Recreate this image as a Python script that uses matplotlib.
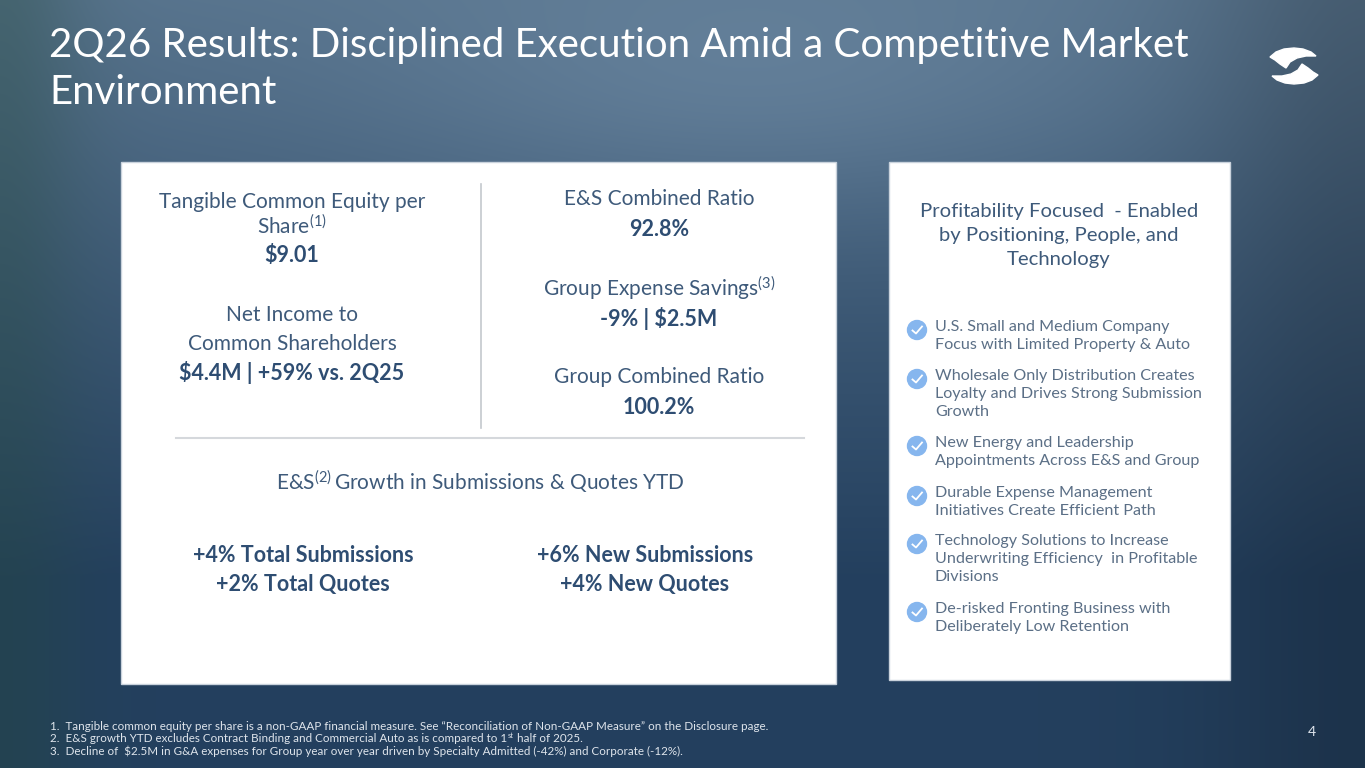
import numpy as np
import matplotlib.pyplot as plt
from matplotlib.patches import Rectangle, Circle, Polygon

plt.rcParams['font.family'] = ['Lato', 'DejaVu Sans']
plt.rcParams['mathtext.fontset'] = 'custom'
plt.rcParams['mathtext.rm'] = 'Lato'
plt.rcParams['mathtext.bf'] = 'Lato:bold'
plt.rcParams['mathtext.it'] = 'Lato:italic'

# slide content
title_lines = ['2Q26 Results: Disciplined Execution Amid a Competitive Market', 'Environment']

left_labels = [['Tangible Common Equity per', r'Share$^{(1)}$'],
               ['Net Income to', 'Common Shareholders']]
left_values = ['$9.01', '$4.4M | +59% vs. 2Q25']

right_labels = ['E&S Combined Ratio', r'Group Expense Savings$^{(3)}$', 'Group Combined Ratio']
right_values = ['92.8%', '-9% | $2.5M', '100.2%']

growth_title = r'E&S$^{(2)}\,$Growth in Submissions & Quotes YTD'
growth_left = ['+4% Total Submissions', '+2% Total Quotes']
growth_right = ['+6% New Submissions', '+4% New Quotes']

side_title = ['Profitability Focused  - Enabled', 'by Positioning, People, and', 'Technology']
bullets = [['U.S. Small and Medium Company', 'Focus with Limited Property & Auto'],
           ['Wholesale Only Distribution Creates', 'Loyalty and Drives Strong Submission', 'Growth'],
           ['New Energy and Leadership', 'Appointments Across E&S and Group'],
           ['Durable Expense Management', 'Initiatives Create Efficient Path'],
           ['Technology Solutions to Increase', 'Underwriting Efficiency  in Profitable', 'Divisions'],
           ['De-risked Fronting Business with', 'Deliberately Low Retention']]
bullet_y = [327, 376, 443, 493, 541, 609]

footnotes = ['1.  Tangible common equity per share is a non-GAAP financial measure. See \u201cReconciliation of Non-GAAP Measure\u201d on the Disclosure page.',
             '2.  E&S growth YTD excludes Contract Binding and Commercial Auto as is compared to 1',
             '3.  Decline of  \\$2.5M in G&A expenses for Group year over year driven by Specialty Admitted (-42%) and Corporate (-12%).']
footnote2_tail = ['st', ' half of 2025.']

W, H = 1365, 768
txt = '#3e5a7a'
bold = '#2e4d72'
soft = '#5b6f86'
note = '#dfe5ec'

fig = plt.figure(figsize=(13.65, 7.68), dpi=100)
ax = fig.add_axes([0, 0, 1, 1])

# blurred blue photo-like background
yy, xx = np.mgrid[0:H, 0:W] / np.array([H, W])[:, None, None]
top = np.array([0.34, 0.45, 0.55])
bot = np.array([0.14, 0.25, 0.37])
t = np.clip(yy / 0.75, 0, 1)[..., None]
bg = top * (1 - t) + bot * t
glow = np.exp(-((xx - 0.55) ** 2 / 0.08 + (yy - 0.12) ** 2 / 0.03))[..., None]
bg = bg + glow * np.array([0.07, 0.07, 0.07])
edge = np.exp(-(xx / 0.06) ** 2)[..., None]
bg = bg * (1 - 0.35 * edge) + edge * np.array([0.05, 0.1, 0.08])
rdark = np.exp(-((1 - xx) / 0.12) ** 2)[..., None]
bg = bg * (1 - 0.2 * rdark)
ax.imshow(np.clip(bg, 0, 1), extent=(0, W, H, 0), aspect='auto', zorder=0)
ax.set_xlim(0, W)
ax.set_ylim(H, 0)
ax.axis('off')

# title
for i, line in enumerate(title_lines):
    ax.text(49, 46 + i * 47, line, color='white', fontsize=29, fontweight='normal',
            va='center', ha='left')

# logo: two point-symmetric white blades
upper = np.array([(1270, 57), (1276, 52), (1284, 49), (1294, 48), (1303, 49), (1311, 52),
                  (1316, 56), (1306, 56), (1297, 58), (1290, 62), (1286, 68), (1280, 64), (1275, 60)])
centre = np.array([1294, 66])
ax.add_patch(Polygon(upper, closed=True, color='white', zorder=3))
ax.add_patch(Polygon(2 * centre - upper, closed=True, color='white', zorder=3))

# panels
ax.add_patch(Rectangle((121, 162), 715, 522, facecolor='white', edgecolor='#c9d2dc', lw=1, zorder=2))
ax.add_patch(Rectangle((889, 162), 341, 518, facecolor='white', edgecolor='#c9d2dc', lw=1, zorder=2))

ax.plot([481, 481], [184, 428], color='#c4c8cd', lw=1.2, zorder=3)
ax.plot([176, 804], [438, 438], color='#d5d8dc', lw=1.5, zorder=3)

fs, fb = 15, 15.5

# left column of the big panel
lx = 292
ax.text(lx, 202, left_labels[0][0], color=txt, fontsize=fs, ha='center', va='center', zorder=4)
ax.text(lx, 226, left_labels[0][1], color=txt, fontsize=fs, ha='center', va='center', zorder=4)
ax.text(lx, 255, left_values[0], color=bold, fontsize=fb, fontweight='bold', ha='center', va='center', zorder=4)
ax.text(lx, 315, left_labels[1][0], color=txt, fontsize=fs, ha='center', va='center', zorder=4)
ax.text(lx, 344, left_labels[1][1], color=txt, fontsize=fs, ha='center', va='center', zorder=4)
ax.text(lx, 373, left_values[1], color=bold, fontsize=fb, fontweight='bold', ha='center', va='center', zorder=4)

# right column of the big panel
rx = 659
for i in range(3):
    y0 = 199 + i * 89
    ax.text(rx, y0, right_labels[i], color=txt, fontsize=fs, ha='center', va='center', zorder=4)
    ax.text(rx, y0 + 30, right_values[i], color=bold, fontsize=fb, fontweight='bold',
            ha='center', va='center', zorder=4)

ax.text(480, 482, growth_title, color=txt, fontsize=fs, ha='center', va='center', zorder=4)
for i in range(2):
    ax.text(303, 556 + i * 29, growth_left[i], color=bold, fontsize=fb, fontweight='bold',
            ha='center', va='center', zorder=4)
    ax.text(645, 556 + i * 29, growth_right[i], color=bold, fontsize=fb, fontweight='bold',
            ha='center', va='center', zorder=4)

# side panel
for i, line in enumerate(side_title):
    ax.text(1059, 212 + i * 24, line, color=txt, fontsize=14.6, ha='center', va='center', zorder=4)

for y0, lines in zip(bullet_y, bullets):
    ax.add_patch(Circle((917, y0 + 3), 9.5, color='#86b6ee', zorder=4))
    ax.plot([912.5, 916, 922], [y0 + 3.5, y0 + 6.5, y0 - 0.5], color='white', lw=1.3, zorder=5)
    for j, line in enumerate(lines):
        ax.text(935, y0 + j * 18, line, color=soft, fontsize=11.6, ha='left', va='center', zorder=4)

# footnotes and page number
notes = []
for i, line in enumerate(footnotes):
    notes.append(ax.text(50, 726 + i * 12.5, line, color=note, fontsize=8.4,
                         ha='left', va='center', zorder=4))
fig.canvas.draw()
x_end = notes[1].get_window_extent().x1  # pixels, same as data x here
sup = ax.text(x_end + 0.5, 735, footnote2_tail[0], color=note, fontsize=5.5,
              ha='left', va='center', zorder=4)
fig.canvas.draw()
ax.text(sup.get_window_extent().x1, 726 + 12.5, footnote2_tail[1], color=note, fontsize=8.4,
        ha='left', va='center', zorder=4)
ax.text(1312, 732, '4', color=note, fontsize=10, ha='center', va='center', zorder=4)

fig.savefig('out.png', dpi=100)
